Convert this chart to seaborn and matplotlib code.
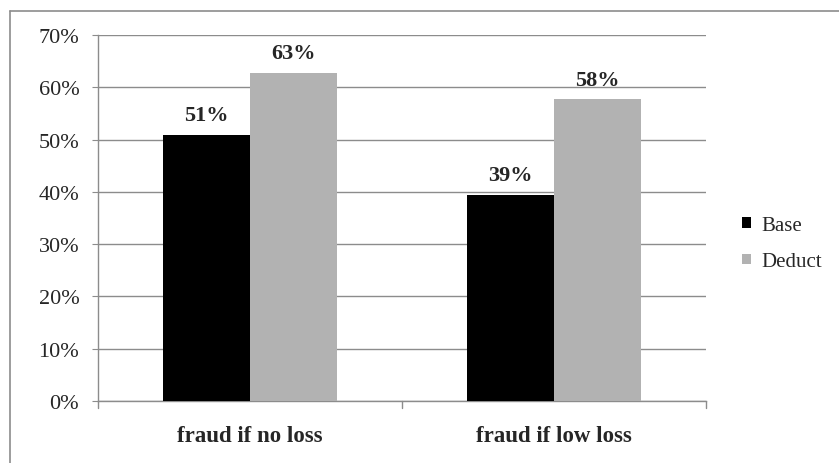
import matplotlib
matplotlib.use("Agg")
import matplotlib.pyplot as plt
import seaborn as sns
import pandas as pd
from matplotlib.lines import Line2D

categories = ["fraud if no loss", "fraud if low loss"]
series = ["Base", "Deduct"]
base_vals = [0.509, 0.394]
deduct_vals = [0.627, 0.577]
labels_base = ["51%", "39%"]
labels_deduct = ["63%", "58%"]
yticks = [0, 0.1, 0.2, 0.3, 0.4, 0.5, 0.6, 0.7]
ytick_labels = ["0%", "10%", "20%", "30%", "40%", "50%", "60%", "70%"]

df = pd.DataFrame({
    "category": categories * 2,
    "series": [series[0]] * 2 + [series[1]] * 2,
    "value": base_vals + deduct_vals,
})

sns.set_style("white")
plt.rcParams["font.family"] = ["Liberation Serif", "DejaVu Serif"]

W, H = 839, 464
fig = plt.figure(figsize=(W / 100, H / 100), dpi=100)
ax = fig.add_axes([98 / W, 1 - 402 / H, (706 - 98) / W, (402 - 36) / H])

grid_c = "#8c8c8c"
sns.barplot(data=df, x="category", y="value", hue="series", order=categories,
            hue_order=series, palette=["#000000", "#b2b2b2"], width=0.57,
            saturation=1, ax=ax, legend=True, zorder=3, linewidth=0)

ax.set_ylim(0, 0.7)
ax.set_xlim(-0.5, 1.5)
ax.set_yticks(yticks)
ax.set_yticklabels(ytick_labels, fontsize=16)
ax.yaxis.grid(True, color=grid_c, linewidth=1)
ax.set_axisbelow(True)
ax.set_xlabel("")
ax.set_ylabel("")
for t in ax.get_xticklabels():
    t.set_fontweight("bold")
    t.set_fontsize(16.5)
ax.tick_params(axis="x", length=0, pad=17)
ax.tick_params(axis="y", length=4.5, color=grid_c, direction="out", pad=9, left=True)
for x in [-0.5, 0.5, 1.5]:
    ax.plot([x, x], [0, -0.0134], color=grid_c, lw=1, clip_on=False)

for s in ["top", "right"]:
    ax.spines[s].set_visible(False)
for s in ["left", "bottom"]:
    ax.spines[s].set_color(grid_c)
    ax.spines[s].set_linewidth(1)

for cont, labs in zip(ax.containers, [labels_base, labels_deduct]):
    ax.bar_label(cont, labels=labs, padding=7, fontsize=16, fontweight="bold")

leg = ax.legend(loc="center left", bbox_to_anchor=(1.028, 0.43), frameon=False,
                fontsize=15, handlelength=0.42, handleheight=0.42,
                handletextpad=0.5, labelspacing=0.85)

fig.add_artist(Line2D([10 / W, 10 / W], [0, 1 - 12 / H], transform=fig.transFigure,
                      color="#8c8c8c", lw=1.2))
fig.add_artist(Line2D([10 / W, 1], [1 - 12 / H, 1 - 12 / H], transform=fig.transFigure,
                      color="#8c8c8c", lw=1.2))

fig.savefig("out.png", dpi=100)
